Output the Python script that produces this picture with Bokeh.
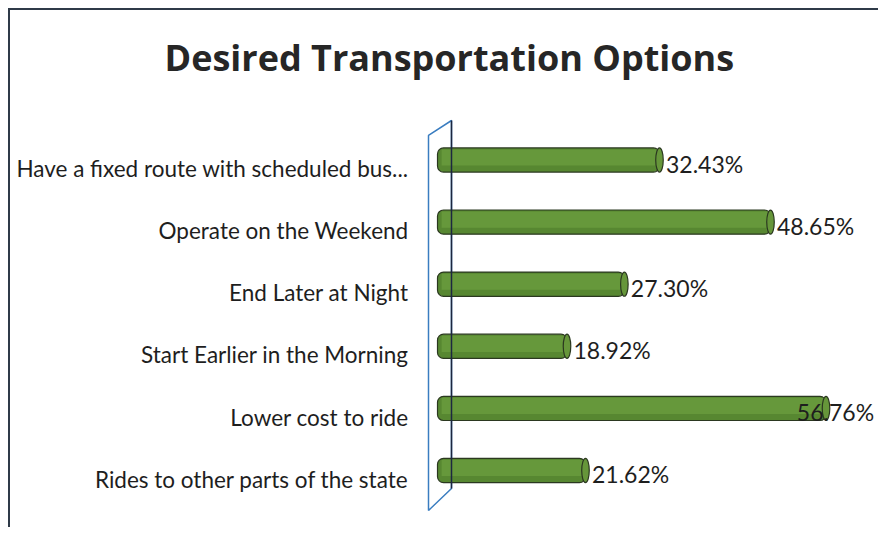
import numpy as np
from bokeh.plotting import figure
from bokeh.models import ColumnDataSource, Range1d, LinearAxis, FixedTicker, Title
from bokeh.core.properties import value
from bokeh.embed import file_html
from bokeh.resources import INLINE

# ---- data ----
categories = [
    "Have a fixed route with scheduled bus...",
    "Operate on the Weekend",
    "End Later at Night",
    "Start Earlier in the Morning",
    "Lower cost to ride",
    "Rides to other parts of the state",
]
percent = [32.43, 48.65, 27.30, 18.92, 56.76, 21.62]
percent_labels = ["32.43%", "48.65%", "27.30%", "18.92%", "56.76%", "21.62%"]
title_text = "Desired Transportation Options"

idx = np.arange(len(categories))
vals = np.array(percent)

FONT = "Lato"
TXT = "#1e1e1e"

p = figure(width=870, height=519, output_backend="svg", toolbar_location=None,
           title=None,
           x_range=Range1d(-2.776, 64.72), y_range=Range1d(5.95, -0.797),
           x_axis_location=None, y_axis_location=None,
           min_border_left=408, min_border_right=0, min_border_top=100, min_border_bottom=0,
           background_fill_color="white", border_fill_color="white")
p.outline_line_color = None
p.grid.visible = False
p.styles = {"margin-left": "8px", "margin-top": "8px",
            "border-top": "2px solid #2f3a48", "border-left": "2px solid #2f3a48"}

# spacer (nearest the frame) then the real title
p.add_layout(Title(text=" ", text_font_size="11px"), "above")
p.add_layout(Title(text=title_text, text_font="Open Sans", text_font_style="bold",
                   text_font_size="36px", text_color="#262626",
                   align="left", offset=-254), "above")

# category axis (labels sit slightly below bar centres, as in the original)
p.extra_y_ranges = {"lab": Range1d(5.95 - 0.14, -0.797 - 0.14)}
ax = LinearAxis(y_range_name="lab", ticker=FixedTicker(ticks=list(idx)),
                major_label_overrides={int(i): c for i, c in zip(idx, categories)})
ax.axis_line_color = None
ax.major_tick_line_color = None
ax.minor_tick_line_color = None
ax.major_tick_in = 0
ax.major_tick_out = 0
ax.major_label_standoff = 10
ax.major_label_text_font = FONT
ax.major_label_text_font_size = "22.5px"
ax.major_label_text_color = TXT
p.add_layout(ax, "left")

# 3D side wall (decoration)
wall_x = [-1.315, 2.045, 2.045, -1.315]
wall_y = [-0.395, -0.636, 5.29, 5.643]
p.patch(wall_x, wall_y, fill_color="white", line_color="#3a7dc0", line_width=1.5)

src = ColumnDataSource(dict(y=idx, v=vals, lab=percent_labels, yh=idx - 0.04,
                            lx=np.minimum(vals + 0.95, 52.5), ly=idx + 0.06))

# cylinder bars
p.hbar(y="y", left=0, right="v", height=0.39, source=src,
       fill_color="#578731", line_color="#2b3820", line_width=1.2, border_radius=6)
p.hbar(y="yh", left=0.6, right="v", height=0.26, source=src,
       fill_color="#66983b", line_color=None)
p.ellipse(x="v", y="y", width=1.1, height=0.39, source=src,
          fill_color="#66963a", line_color="#2b3820", line_width=1.2)

# front edge of wall over bars
p.segment(x0=[2.045], y0=[-0.636], x1=[2.045], y1=[5.29], line_color="#1c2740", line_width=1.5)

p.text(x="lx", y="ly", text="lab", source=src, text_font=value(FONT),
       text_font_size="23px", text_color=TXT, text_align="left", text_baseline="middle")

open("out.html", "w").write(file_html(p, INLINE))
